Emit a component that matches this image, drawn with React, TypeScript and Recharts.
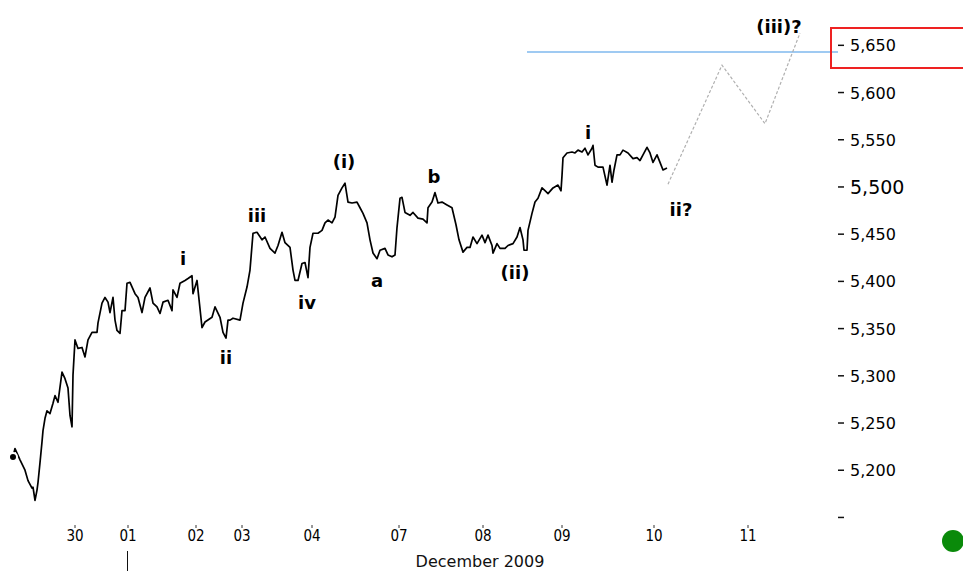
import { Label, Line, LineChart, ReferenceDot, ReferenceLine, XAxis, YAxis } from "recharts"

// time index along the session axis, and the close at each sample
const times = [13,15,20,25,28,32,33,35,37,38,40,42,43,45,47,50,53,55,58,60,62,65,68,70,72,73,75,78,82,85,88,92,97,98,102,105,108,110,113,115,117,120,122,125,127,130,135,138,142,145,150,153,157,160,163,168,172,173,177,180,185,188,192,193,197,198,202,205,212,215,220,223,226,228,230,233,240,243,247,250,253,257,262,265,270,275,278,282,285,290,293,295,298,302,305,308,310,313,318,322,325,328,332,335,338,342,345,348,352,357,360,363,367,370,373,377,380,385,388,392,395,397,400,402,405,410,413,418,423,427,428,432,435,438,442,447,452,456,459,463,467,470,473,477,482,485,488,492,493,497,500,505,508,513,517,520,523,524,527,528,532,535,538,542,545,548,553,558,561,562,563,567,572,575,578,582,585,588,592,593,595,598,603,607,610,612,614,617,620,623,628,633,637,640,643,647,650,653,657,660,663,667]
const prices = [5214,5223,5211,5200,5189,5181,5182,5168,5179,5187,5208,5230,5242,5255,5263,5260,5271,5279,5272,5288,5304,5297,5287,5258,5246,5301,5338,5329,5330,5320,5338,5346,5346,5356,5377,5383,5378,5367,5383,5359,5348,5345,5369,5369,5398,5399,5387,5383,5367,5383,5393,5377,5373,5366,5378,5380,5369,5391,5383,5398,5401,5403,5406,5387,5401,5391,5351,5357,5362,5373,5362,5346,5340,5359,5359,5361,5359,5377,5394,5412,5451,5452,5444,5447,5435,5430,5438,5452,5441,5436,5412,5401,5401,5419,5420,5404,5436,5451,5451,5454,5462,5465,5462,5468,5491,5499,5504,5484,5483,5484,5478,5472,5462,5444,5430,5424,5433,5435,5428,5426,5428,5457,5488,5489,5473,5470,5473,5467,5466,5462,5478,5484,5494,5483,5484,5481,5478,5460,5444,5431,5436,5436,5447,5440,5449,5441,5449,5438,5430,5440,5435,5435,5438,5440,5447,5457,5444,5433,5433,5454,5472,5484,5488,5499,5496,5493,5499,5502,5496,5512,5531,5536,5537,5536,5539,5537,5541,5534,5541,5544,5523,5521,5521,5502,5523,5505,5518,5534,5534,5539,5536,5530,5531,5528,5534,5542,5536,5526,5534,5526,5518,5520]

// projected wave path (ii? -> (iii)?)
const projTimes = [668, 722, 765, 800]
const projPrices = [5503, 5629, 5567, 5663]

const dayTicks = [75, 128, 196, 242, 312, 399, 483, 562, 654, 748]
const dayLabels = ["30", "01", "02", "03", "04", "07", "08", "09", "10", "11"]
const priceTicks = [5150, 5200, 5250, 5300, 5350, 5400, 5450, 5500, 5550, 5600, 5650]

const targetLevel = 5643
const targetStart = 527

const waveNames = ["i", "ii", "iii", "iv", "(i)", "a", "b", "(ii)", "i", "ii?", "(iii)?"]
const waveTimes = [183, 226, 257, 307, 344, 377, 434, 515, 588, 681, 779]
const wavePrices = [5424, 5319, 5470, 5377, 5527, 5401, 5511, 5409, 5558, 5476, 5670]

const priceData = times.map((t, i) => ({ t, price: prices[i] }))
const projData = projTimes.map((t, i) => ({ t, price: projPrices[i] }))

function PriceTick({ x, y, payload }: any) {
  const v = payload.value
  if (v === 5150) return null
  const big = v === 5500
  return (
    <text x={x} y={y} dy={big ? 7 : 6} textAnchor="start" fill="#000" fontSize={big ? 19 : 16}>
      {v.toLocaleString("en-US")}
    </text>
  )
}

export default function App() {
  return (
    <div style={{ position: "absolute", left: 0, top: 0, width: 963, height: 571, fontFamily: "'DejaVu Sans', sans-serif", background: "#fff" }}>
      <LineChart width={963} height={571} margin={{ top: 0, right: 0, bottom: 0, left: 0 }}>
        <XAxis
          dataKey="t"
          type="number"
          domain={[0, 838]}
          ticks={dayTicks}
          interval={0}
          allowDataOverflow
          axisLine={false}
          tickSize={3}
          tickMargin={2}
          tickLine={{ stroke: "#333" }}
          tickFormatter={(v: number) => dayLabels[dayTicks.indexOf(v)] ?? ""}
          tick={{ fill: "#000", fontSize: 15, fontFamily: "'DejaVu Sans Condensed', 'DejaVu Sans', sans-serif" }}
          height={46}
        >
          <Label value="December 2009" position="insideBottom" offset={4} dx={61} fill="#111" fontSize={16} />
        </XAxis>
        <YAxis
          orientation="right"
          type="number"
          domain={[5142, 5698]}
          ticks={priceTicks}
          interval={0}
          allowDataOverflow
          axisLine={false}
          tickSize={6}
          tickMargin={6}
          tickLine={{ stroke: "#111", strokeWidth: 1.5 }}
          tick={<PriceTick />}
          width={125}
        />
        <ReferenceLine
          segment={[{ x: targetStart, y: targetLevel }, { x: 838, y: targetLevel }]}
          stroke="#9fcaf2"
          strokeWidth={2}
          ifOverflow="visible"
        />
        <Line data={projData} dataKey="price" type="linear" stroke="#b0b0b0" strokeWidth={1.2} strokeDasharray="3 2" dot={false} isAnimationActive={false} />
        <Line data={priceData} dataKey="price" type="linear" stroke="#000" strokeWidth={1.7} strokeLinejoin="round" dot={false} isAnimationActive={false} />
        {waveNames.map((name, i) => (
          <ReferenceDot
            key={i}
            x={waveTimes[i]}
            y={wavePrices[i]}
            r={0}
            fill="none"
            stroke="none"
            ifOverflow="visible"
            label={{ value: name, position: "center", fill: "#000", fontSize: 18, fontWeight: "bold" }}
          />
        ))}
      </LineChart>
      <div style={{ position: "absolute", left: 127, top: 551, width: 1, height: 20, background: "#111" }} />
      <div style={{ position: "absolute", left: 830, top: 27, width: 140, height: 38, border: "2px solid #ee2222" }} />
      <div style={{ position: "absolute", left: 942, top: 530, width: 22, height: 22, borderRadius: "50%", background: "#0a8a0a" }} />
    </div>
  )
}
